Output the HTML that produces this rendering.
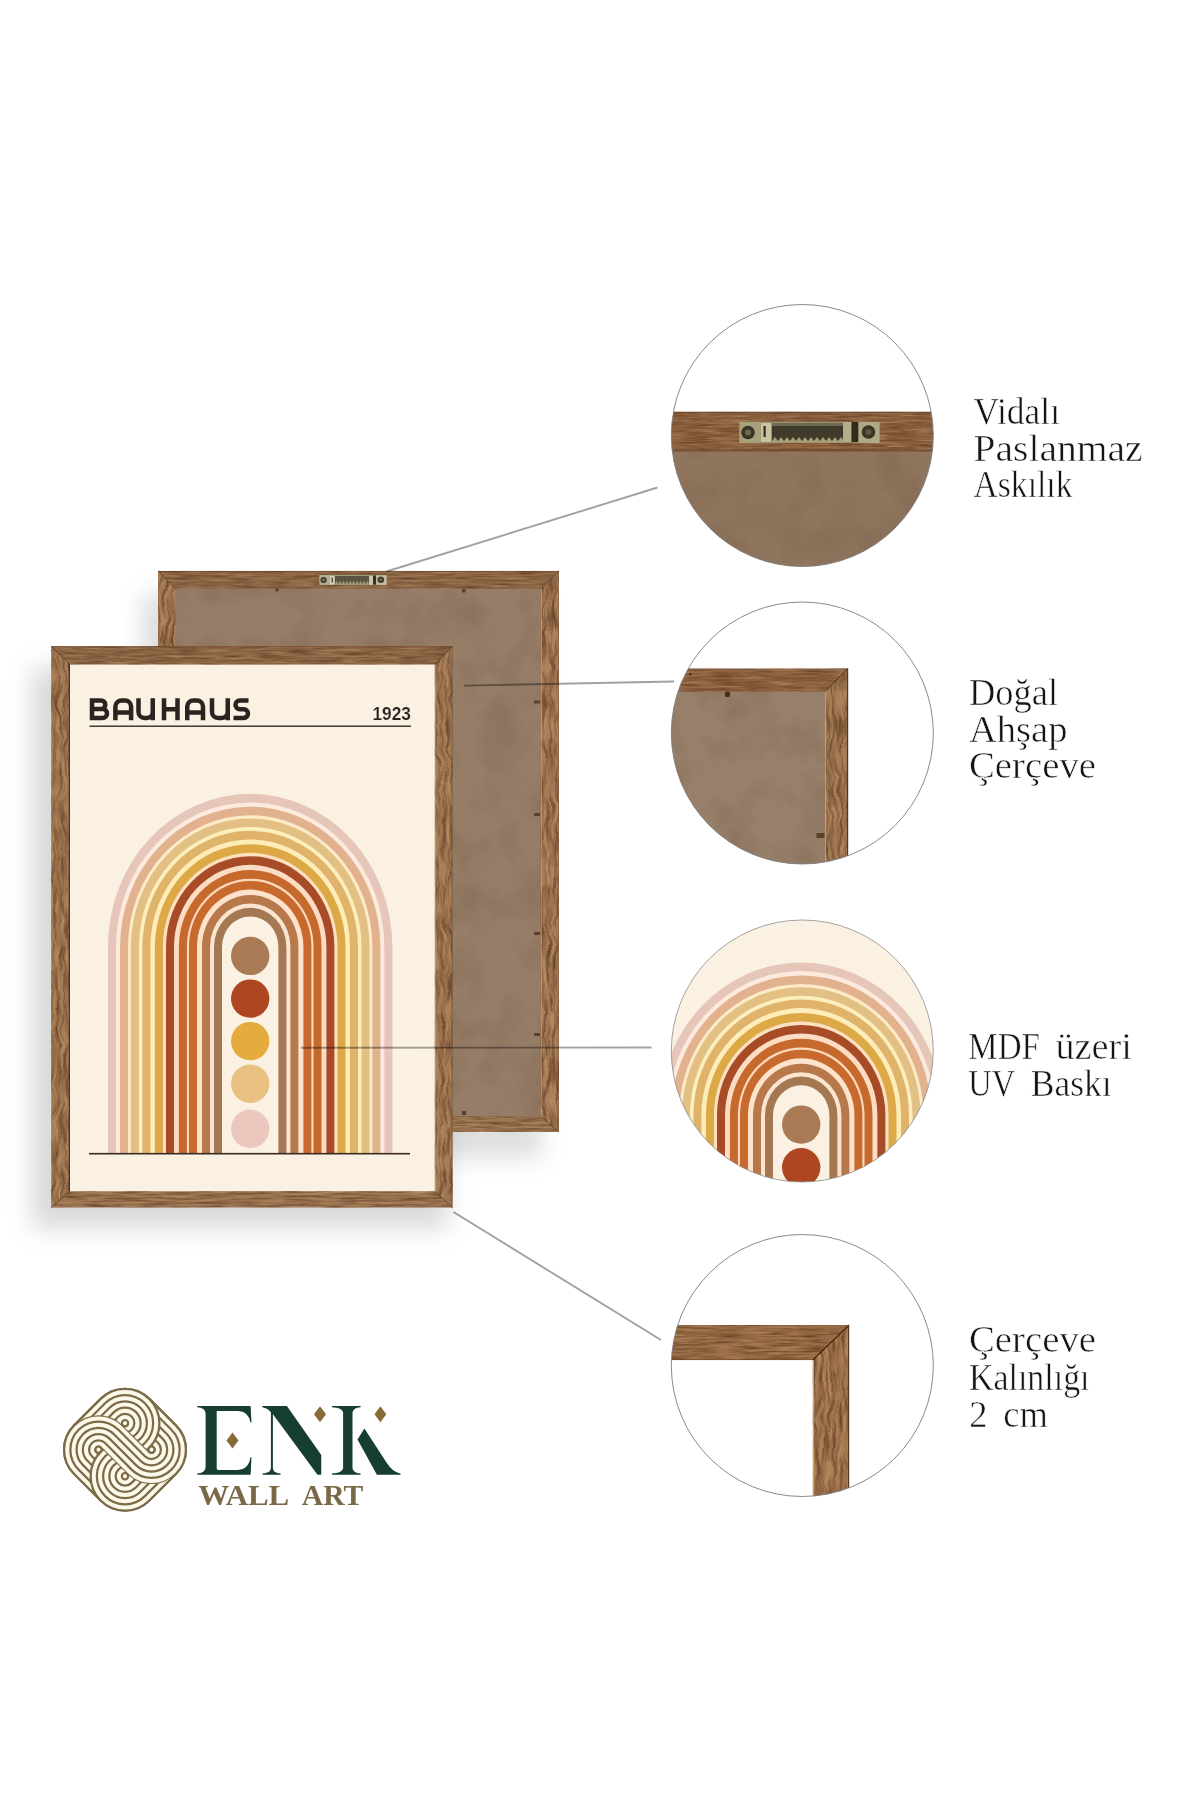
<!DOCTYPE html>
<html><head><meta charset="utf-8"><title>ENK Wall Art</title>
<style>
html,body{margin:0;padding:0;background:#fff;}
body{width:1200px;height:1800px;overflow:hidden;font-family:"Liberation Sans",sans-serif;}
svg{display:block}
text{font-family:"Liberation Serif",serif;}
.lbl{font-family:"Liberation Serif",serif;font-size:38.5px;fill:#141414;stroke:#fff;stroke-width:0.55px;}
.sans{font-family:"Liberation Sans",sans-serif;}
</style></head><body>
<svg width="1200" height="1800" viewBox="0 0 1200 1800">
<defs>
<filter id="woodH" x="0" y="0" width="100%" height="100%" color-interpolation-filters="sRGB">
 <feTurbulence type="fractalNoise" baseFrequency="0.035 0.45" numOctaves="3" seed="4" result="n"/>
 <feColorMatrix in="n" type="matrix" values="0 0 0 0 0.36  0 0 0 0 0.22  0 0 0 0 0.12  1.5 0 0 0 -0.55" result="g"/>
 <feComposite in="g" in2="SourceGraphic" operator="in" result="gi"/>
 <feTurbulence type="fractalNoise" baseFrequency="0.03 0.5" numOctaves="2" seed="11" result="n2"/>
 <feColorMatrix in="n2" type="matrix" values="0 0 0 0 0.74  0 0 0 0 0.58  0 0 0 0 0.43  0 1.3 0 0 -0.52" result="l"/>
 <feComposite in="l" in2="SourceGraphic" operator="in" result="li"/>
 <feMerge><feMergeNode in="SourceGraphic"/><feMergeNode in="li"/><feMergeNode in="gi"/></feMerge>
</filter>
<filter id="woodV" x="0" y="0" width="100%" height="100%" color-interpolation-filters="sRGB">
 <feTurbulence type="fractalNoise" baseFrequency="0.30 0.035" numOctaves="3" seed="7" result="n0"/>
 <feTurbulence type="fractalNoise" baseFrequency="0.02 0.045" numOctaves="2" seed="21" result="w"/>
 <feDisplacementMap in="n0" in2="w" scale="11" xChannelSelector="R" yChannelSelector="G" result="n"/>
 <feColorMatrix in="n" type="matrix" values="0 0 0 0 0.36  0 0 0 0 0.22  0 0 0 0 0.12  1.7 0 0 0 -0.62" result="g"/>
 <feComposite in="g" in2="SourceGraphic" operator="in" result="gi"/>
 <feColorMatrix in="n" type="matrix" values="0 0 0 0 0.76  0 0 0 0 0.60  0 0 0 0 0.44  0 1.4 0 0 -0.56" result="l"/>
 <feComposite in="l" in2="SourceGraphic" operator="in" result="li"/>
 <feMerge><feMergeNode in="SourceGraphic"/><feMergeNode in="li"/><feMergeNode in="gi"/></feMerge>
</filter>
<filter id="mdf" x="0" y="0" width="100%" height="100%" color-interpolation-filters="sRGB">
 <feTurbulence type="fractalNoise" baseFrequency="0.025" numOctaves="3" seed="3" result="n"/>
 <feColorMatrix in="n" type="matrix" values="0 0 0 0 0.47  0 0 0 0 0.37  0 0 0 0 0.28  0.8 0 0 0 -0.34" result="g"/>
 <feComposite in="g" in2="SourceGraphic" operator="in" result="gi"/>
 <feMerge><feMergeNode in="SourceGraphic"/><feMergeNode in="gi"/></feMerge>
</filter>
<filter id="blur12" x="-20%" y="-20%" width="140%" height="140%"><feGaussianBlur stdDeviation="12"/></filter>
<filter id="blur8" x="-20%" y="-20%" width="140%" height="140%"><feGaussianBlur stdDeviation="11"/></filter>
<clipPath id="c1"><circle cx="802.3" cy="435.5" r="131"/></clipPath>
<clipPath id="c2"><circle cx="802.3" cy="733" r="131"/></clipPath>
<clipPath id="c3"><circle cx="802.3" cy="1051" r="131"/></clipPath>
<clipPath id="c4"><circle cx="802.3" cy="1365.5" r="131"/></clipPath>
<g id="arch">
<path d="M-134.5 206.8 V0 A134.5 144.72 0 0 1 134.5 0 V206.8 H129.89999999999998 V0 A129.89999999999998 139.77 0 0 0 -129.89999999999998 0 V206.8 Z" fill="#FBEADD"/>
<path d="M-122.5 206.8 V0 A122.5 131.81 0 0 1 122.5 0 V206.8 H119.0 V0 A119.0 128.04 0 0 0 -119.0 0 V206.8 Z" fill="#FDEBC8"/>
<path d="M-111.6 206.8 V0 A111.6 120.08 0 0 1 111.6 0 V206.8 H107.5 V0 A107.5 115.67 0 0 0 -107.5 0 V206.8 Z" fill="#FDEEBE"/>
<path d="M-100.1 206.8 V0 A100.1 107.71 0 0 1 100.1 0 V206.8 H95.0 V0 A95.0 102.22 0 0 0 -95.0 0 V206.8 Z" fill="#FEEDB8"/>
<path d="M-87.6 206.8 V0 A87.6 94.26 0 0 1 87.6 0 V206.8 H83.9 V0 A83.9 90.28 0 0 0 -83.9 0 V206.8 Z" fill="#FDE0C0"/>
<path d="M-76.5 206.8 V0 A76.5 82.31 0 0 1 76.5 0 V206.8 H71.0 V0 A71.0 76.40 0 0 0 -71.0 0 V206.8 Z" fill="#FDDCC4"/>
<path d="M-63.599999999999994 206.8 V0 A63.599999999999994 68.43 0 0 1 63.599999999999994 0 V206.8 H60.900000000000006 V0 A60.900000000000006 65.53 0 0 0 -60.900000000000006 0 V206.8 Z" fill="#FCD9BC"/>
<path d="M-53.5 206.8 V0 A53.5 57.57 0 0 1 53.5 0 V206.8 H47.900000000000006 V0 A47.900000000000006 51.54 0 0 0 -47.900000000000006 0 V206.8 Z" fill="#FDE2CC"/>
<path d="M-40.5 206.8 V0 A40.5 43.58 0 0 1 40.5 0 V206.8 H35.900000000000006 V0 A35.900000000000006 38.63 0 0 0 -35.900000000000006 0 V206.8 Z" fill="#FBE4D0"/>
<path d="M-142.2 206.8 V0 A142.2 153.01 0 0 1 142.2 0 V206.8 H134.2 V0 A134.2 144.40 0 0 0 -134.2 0 V206.8 Z" fill="#E7C6BA"/>
<path d="M-130.2 206.8 V0 A130.2 140.10 0 0 1 130.2 0 V206.8 H122.2 V0 A122.2 131.49 0 0 0 -122.2 0 V206.8 Z" fill="#E2B28E"/>
<path d="M-119.3 206.8 V0 A119.3 128.37 0 0 1 119.3 0 V206.8 H111.3 V0 A111.3 119.76 0 0 0 -111.3 0 V206.8 Z" fill="#E2C084"/>
<path d="M-107.8 206.8 V0 A107.8 115.99 0 0 1 107.8 0 V206.8 H99.8 V0 A99.8 107.38 0 0 0 -99.8 0 V206.8 Z" fill="#E0B36A"/>
<path d="M-95.3 206.8 V0 A95.3 102.54 0 0 1 95.3 0 V206.8 H87.3 V0 A87.3 93.93 0 0 0 -87.3 0 V206.8 Z" fill="#DCA946"/>
<path d="M-84.2 206.8 V0 A84.2 90.60 0 0 1 84.2 0 V206.8 H76.2 V0 A76.2 81.99 0 0 0 -76.2 0 V206.8 Z" fill="#A74C27"/>
<path d="M-71.3 206.8 V0 A71.3 76.72 0 0 1 71.3 0 V206.8 H63.3 V0 A63.3 68.11 0 0 0 -63.3 0 V206.8 Z" fill="#C6692D"/>
<path d="M-61.2 206.8 V0 A61.2 65.85 0 0 1 61.2 0 V206.8 H53.2 V0 A53.2 57.24 0 0 0 -53.2 0 V206.8 Z" fill="#C86A2E"/>
<path d="M-48.2 206.8 V0 A48.2 51.86 0 0 1 48.2 0 V206.8 H40.2 V0 A40.2 43.26 0 0 0 -40.2 0 V206.8 Z" fill="#B7794B"/>
<path d="M-36.2 206.8 V0 A36.2 38.95 0 0 1 36.2 0 V206.8 H28.2 V0 A28.2 30.34 0 0 0 -28.2 0 V206.8 Z" fill="#A37853"/>
<circle cx="0" cy="9.1" r="19.2" fill="#A97A54"/>
<circle cx="0" cy="51.8" r="19.2" fill="#AF4622"/>
<circle cx="0" cy="94.3" r="19.2" fill="#E4AB3F"/>
<circle cx="0" cy="136.9" r="19.2" fill="#E8C181"/>
<circle cx="0" cy="182.0" r="19.2" fill="#EBC8BE"/>
</g>
<g id="archzoom">
<path d="M-134.5 130 V0 A134.5 144.72 0 0 1 134.5 0 V130 H129.89999999999998 V0 A129.89999999999998 139.77 0 0 0 -129.89999999999998 0 V130 Z" fill="#FBEADD"/>
<path d="M-122.5 130 V0 A122.5 131.81 0 0 1 122.5 0 V130 H119.0 V0 A119.0 128.04 0 0 0 -119.0 0 V130 Z" fill="#FDEBC8"/>
<path d="M-111.6 130 V0 A111.6 120.08 0 0 1 111.6 0 V130 H107.5 V0 A107.5 115.67 0 0 0 -107.5 0 V130 Z" fill="#FDEEBE"/>
<path d="M-100.1 130 V0 A100.1 107.71 0 0 1 100.1 0 V130 H95.0 V0 A95.0 102.22 0 0 0 -95.0 0 V130 Z" fill="#FEEDB8"/>
<path d="M-87.6 130 V0 A87.6 94.26 0 0 1 87.6 0 V130 H83.9 V0 A83.9 90.28 0 0 0 -83.9 0 V130 Z" fill="#FDE0C0"/>
<path d="M-76.5 130 V0 A76.5 82.31 0 0 1 76.5 0 V130 H71.0 V0 A71.0 76.40 0 0 0 -71.0 0 V130 Z" fill="#FDDCC4"/>
<path d="M-63.599999999999994 130 V0 A63.599999999999994 68.43 0 0 1 63.599999999999994 0 V130 H60.900000000000006 V0 A60.900000000000006 65.53 0 0 0 -60.900000000000006 0 V130 Z" fill="#FCD9BC"/>
<path d="M-53.5 130 V0 A53.5 57.57 0 0 1 53.5 0 V130 H47.900000000000006 V0 A47.900000000000006 51.54 0 0 0 -47.900000000000006 0 V130 Z" fill="#FDE2CC"/>
<path d="M-40.5 130 V0 A40.5 43.58 0 0 1 40.5 0 V130 H35.900000000000006 V0 A35.900000000000006 38.63 0 0 0 -35.900000000000006 0 V130 Z" fill="#FBE4D0"/>
<path d="M-142.2 130 V0 A142.2 153.01 0 0 1 142.2 0 V130 H134.2 V0 A134.2 144.40 0 0 0 -134.2 0 V130 Z" fill="#E7C6BA"/>
<path d="M-130.2 130 V0 A130.2 140.10 0 0 1 130.2 0 V130 H122.2 V0 A122.2 131.49 0 0 0 -122.2 0 V130 Z" fill="#E2B28E"/>
<path d="M-119.3 130 V0 A119.3 128.37 0 0 1 119.3 0 V130 H111.3 V0 A111.3 119.76 0 0 0 -111.3 0 V130 Z" fill="#E2C084"/>
<path d="M-107.8 130 V0 A107.8 115.99 0 0 1 107.8 0 V130 H99.8 V0 A99.8 107.38 0 0 0 -99.8 0 V130 Z" fill="#E0B36A"/>
<path d="M-95.3 130 V0 A95.3 102.54 0 0 1 95.3 0 V130 H87.3 V0 A87.3 93.93 0 0 0 -87.3 0 V130 Z" fill="#DCA946"/>
<path d="M-84.2 130 V0 A84.2 90.60 0 0 1 84.2 0 V130 H76.2 V0 A76.2 81.99 0 0 0 -76.2 0 V130 Z" fill="#A74C27"/>
<path d="M-71.3 130 V0 A71.3 76.72 0 0 1 71.3 0 V130 H63.3 V0 A63.3 68.11 0 0 0 -63.3 0 V130 Z" fill="#C6692D"/>
<path d="M-61.2 130 V0 A61.2 65.85 0 0 1 61.2 0 V130 H53.2 V0 A53.2 57.24 0 0 0 -53.2 0 V130 Z" fill="#C86A2E"/>
<path d="M-48.2 130 V0 A48.2 51.86 0 0 1 48.2 0 V130 H40.2 V0 A40.2 43.26 0 0 0 -40.2 0 V130 Z" fill="#B7794B"/>
<path d="M-36.2 130 V0 A36.2 38.95 0 0 1 36.2 0 V130 H28.2 V0 A28.2 30.34 0 0 0 -28.2 0 V130 Z" fill="#A37853"/>
<circle cx="0" cy="9.1" r="19.2" fill="#A97A54"/>
<circle cx="0" cy="51.8" r="19.2" fill="#AF4622"/>
<circle cx="0" cy="94.3" r="19.2" fill="#E4AB3F"/>
<circle cx="0" cy="136.9" r="19.2" fill="#E8C181"/>
<circle cx="0" cy="182.0" r="19.2" fill="#EBC8BE"/>
</g>
</defs>
<rect width="1200" height="1800" fill="#ffffff"/>

<!-- shadows -->
<g>
<rect x="142" y="594" width="400" height="564" fill="#8a8c8e" filter="url(#blur8)" opacity="0.28"/>
<rect x="32" y="668" width="416" height="560" fill="#8a8c8e" filter="url(#blur12)" opacity="0.33"/>
</g>

<!-- back frame -->
<rect x="175" y="588" width="366" height="529" fill="#957D68" filter="url(#mdf)"/>

<path d="M158 571 L558.8 571 L540.6 588.7 L175.5 588.7 Z" fill="#906A48" filter="url(#woodH)"/>
<path d="M158 1132 L558.8 1132 L540.6 1116.2 L175.5 1116.2 Z" fill="#9E7854" filter="url(#woodH)"/>
<path d="M158 571 L175.5 588.7 L175.5 1116.2 L158 1132 Z" fill="#A67B56" filter="url(#woodV)"/>
<path d="M558.8 571 L540.6 588.7 L540.6 1116.2 L558.8 1132 Z" fill="#A67B56" filter="url(#woodV)"/>
<path d="M158 571 L175.5 588.7 M558.8 571 L540.6 588.7 M158 1132 L175.5 1116.2 M558.8 1132 L540.6 1116.2" stroke="#4A2C14" stroke-width="0.9" fill="none" opacity="0.8"/>
<path d="M558.4 571 V1132 M158 571.4 H558.8" stroke="#5E3C20" stroke-width="0.9" fill="none" opacity="0.55"/>
<path d="M541.5 588.7 V1116.2" stroke="#D8B48C" stroke-width="0.8" fill="none" opacity="0.55"/>

<!-- clips on back -->
<g fill="#5A4030">
<rect x="275.5" y="588.5" width="3" height="3"/><rect x="462" y="589" width="3.5" height="3.5"/>
<rect x="534" y="700.5" width="6" height="3"/><rect x="534" y="813" width="6" height="3"/>
<rect x="534" y="932" width="6" height="3"/><rect x="534" y="1033" width="6" height="3"/>
<rect x="462" y="1111" width="4" height="4"/>
</g>
<!-- hanger small -->
<g>
<rect x="319.5" y="575" width="67" height="9.8" fill="#A09A7C"/>
<rect x="319.5" y="575" width="11" height="9.8" fill="#B2AE92"/>
<rect x="330" y="576" width="4.5" height="8.5" fill="#D2CFBC"/>
<rect x="335" y="576" width="34" height="8" fill="#5C5442"/>
<path d="M335 583.8 l1.7 -3 1.7 3 1.7 -3 1.7 3 1.7 -3 1.7 3 1.7 -3 1.7 3 1.7 -3 1.7 3 1.7 -3 1.7 3 1.7 -3 1.7 3 1.7 -3 1.7 3 1.7 -3 1.7 3 1.7 -3 1.7 3 V584.8 H335Z" fill="#9C9678"/>
<rect x="369" y="576" width="4" height="8.8" fill="#C9C6B0"/>
<rect x="373" y="575.5" width="3.2" height="9" fill="#383224"/>
<rect x="376.2" y="575.5" width="10.3" height="9.3" fill="#C4C0A8"/>
<circle cx="323.6" cy="580" r="3.1" fill="#3E3A2A"/><circle cx="323.6" cy="580" r="1.2" fill="#8A866A"/>
<circle cx="380.8" cy="579.8" r="3.3" fill="#3E3A2A"/><circle cx="380.8" cy="579.8" r="1.3" fill="#7A765C"/>
<rect x="331.6" y="577.5" width="1.2" height="5" fill="#3A3426"/>
</g>

<!-- front frame -->
<rect x="69" y="664" width="366" height="528" fill="#FAF1E3"/>
<g transform="translate(250.2,946.8)"><use href="#arch"/></g>
<rect x="89" y="1152.9" width="321" height="1.6" fill="#3A2C22"/>
<rect x="89.5" y="725.5" width="321.5" height="1.4" fill="#332A25"/>
<g fill="none" stroke="#2A2320" stroke-width="4.5" stroke-linejoin="round">
<path d="M92 698.2 V720.25 M89.75 700.45 H101 a4.2 4.2 0 0 1 0 8.6 H92 M92 709.1 H102.6 a4.45 4.45 0 0 1 0 8.9 H89.75"/>
<path d="M115.4 720.25 V706.6 a6.15 6.15 0 0 1 6.15 -6.15 h3.4 a6.15 6.15 0 0 1 6.15 6.15 V720.25 M115.4 712.6 H131.1"/>
<path d="M138.5 698.2 V712 a6 6 0 0 0 6 6 h2.25 a6 6 0 0 0 6 -6 M152.75 698.2 V720.25"/>
<path d="M164 698.2 V720.25 M177.5 698.2 V720.25 M164 709.2 H177.5"/>
<path d="M187.25 720.25 V706.6 a6.15 6.15 0 0 1 6.15 -6.15 h3.45 a6.15 6.15 0 0 1 6.15 6.15 V720.25 M187.25 712.6 H203"/>
<path d="M212 698.2 V712 a6 6 0 0 0 6 6 h3.75 a6 6 0 0 0 6 -6 M227.75 698.2 V720.25"/>
<path d="M248.5 700.45 H239.8 a4.35 4.35 0 0 0 0 8.7 H243.8 a4.43 4.43 0 0 1 0 8.85 H233.5"/>
</g>
<text class="sans" x="372.5" y="720.2" font-size="18" font-weight="700" fill="#2A2320" stroke="#FAF1E3" stroke-width="0.15" textLength="38.5" lengthAdjust="spacingAndGlyphs">1923</text>

<path d="M51.2 646.3 L452.5 646.3 L434.8 664.4 L69.6 664.4 Z" fill="#906A48" filter="url(#woodH)"/>
<path d="M51.2 1207.6 L452.5 1207.6 L434.8 1191.3 L69.6 1191.3 Z" fill="#9E7854" filter="url(#woodH)"/>
<path d="M51.2 646.3 L69.6 664.4 L69.6 1191.3 L51.2 1207.6 Z" fill="#A67B56" filter="url(#woodV)"/>
<path d="M452.5 646.3 L434.8 664.4 L434.8 1191.3 L452.5 1207.6 Z" fill="#A67B56" filter="url(#woodV)"/>
<path d="M51.2 646.3 L69.6 664.4 M452.5 646.3 L434.8 664.4 M51.2 1207.6 L69.6 1191.3 M452.5 1207.6 L434.8 1191.3" stroke="#4A2C14" stroke-width="0.9" fill="none" opacity="0.8"/>
<path d="M452.1 646.3 V1207.6 M51.2 646.6999999999999 H452.5" stroke="#5E3C20" stroke-width="0.9" fill="none" opacity="0.55"/>
<path d="M435.7 664.4 V1191.3" stroke="#D8B48C" stroke-width="0.8" fill="none" opacity="0.55"/>

<path d="M69.3 664.4 V1191.3" stroke="#3A2212" stroke-width="1.1"/>

<!-- pointer lines -->
<g stroke="#979797" stroke-width="1.9" fill="none" opacity="0.9" style="mix-blend-mode:multiply">
<path d="M386.5 571.5 L657.5 487.5"/>
<path d="M464 685.6 L674 681.5"/>
<path d="M301 1047.8 L651.5 1047.5"/>
<path d="M453.5 1212 L661 1340"/>
</g>

<!-- circle 1 -->
<g clip-path="url(#c1)">
<rect x="660" y="450" width="290" height="130" fill="#8F745E" filter="url(#mdf)"/>
<rect x="660" y="411.8" width="290" height="39.4" fill="#8F6340" filter="url(#woodH)"/>
<rect x="660" y="411.8" width="290" height="1.5" fill="#6A4426" opacity="0.6"/>
<rect x="660" y="449.5" width="290" height="2" fill="#6E4A30" opacity="0.7"/>
<g>
<rect x="739.5" y="421.8" width="140" height="21" fill="#9C946E"/>
<rect x="739.5" y="421.8" width="21" height="21" fill="#A8A07A"/>
<rect x="772" y="423" width="72" height="18" fill="#3E3B2A"/>
<rect x="772" y="423" width="72" height="3" fill="#6E6A50"/>
<path d="M772 441 l3 -4 3 4 3 -4 3 4 3 -4 3 4 3 -4 3 4 3 -4 3 4 3 -4 3 4 3 -4 3 4 3 -4 3 4 3 -4 3 4 3 -4 3 4 3 -4 3 4 3 -4 3 4 V442.8 H772Z" fill="#A89F78"/>
<rect x="761" y="423" width="10" height="19" fill="#C9C3A2"/>
<rect x="763.5" y="426" width="2.2" height="11" fill="#2E2A1C"/>
<rect x="843" y="422" width="8.5" height="20" fill="#B5AE8A"/>
<rect x="851.5" y="422" width="7" height="20" fill="#2F2B1E"/>
<rect x="858.5" y="422" width="21" height="21" fill="#B0A984"/>
<circle cx="748" cy="432.5" r="6.8" fill="#3A3626"/><circle cx="748" cy="432.5" r="3" fill="#6F694C"/>
<circle cx="868.5" cy="432" r="6.8" fill="#3A3626"/><circle cx="868.5" cy="432" r="3" fill="#5F5A40"/>
</g>
</g>
<circle cx="802.3" cy="435.5" r="131" fill="none" stroke="#7d7d7d" stroke-width="0.9"/>

<!-- circle 2 -->
<g clip-path="url(#c2)">
<rect x="660" y="690" width="166" height="190" fill="#987F6A" filter="url(#mdf)"/>
<path d="M660 668.6 H847.8 L825 691.5 H660Z" fill="#8F6340" filter="url(#woodH)"/>
<path d="M847.8 668.6 V880 H825 V691.5Z" fill="#A27853" filter="url(#woodV)"/>
<path d="M847.8 668.6 L825 691.5" stroke="#3E2412" stroke-width="1"/>
<path d="M847.6 668.6 V880" stroke="#5A3418" stroke-width="1.2"/>
<path d="M825.4 691.5 V880" stroke="#E0C09A" stroke-width="0.8" opacity="0.8"/>
<rect x="725" y="691.5" width="5" height="5.5" rx="1.5" fill="#4A2E1C"/>
<rect x="816.5" y="833" width="8" height="5" fill="#5A4228"/>
<rect x="689" y="673" width="2.5" height="2.5" fill="#4A2E1C"/>
</g>
<circle cx="802.3" cy="733" r="131" fill="none" stroke="#7d7d7d" stroke-width="0.9"/>

<!-- circle 3 -->
<g clip-path="url(#c3)">
<rect x="660" y="910" width="290" height="290" fill="#FAF1E3"/>
<g transform="translate(801.2,1115.5)"><use href="#archzoom"/></g>
</g>
<circle cx="802.3" cy="1051" r="131" fill="none" stroke="#8d8d8d" stroke-width="0.8"/>

<!-- circle 4 -->
<g clip-path="url(#c4)">
<path d="M660 1325 H849 L812.8 1360 H660Z" fill="#9C6E46" filter="url(#woodH)"/>
<path d="M849 1325 V1510 H812.8 V1360Z" fill="#A6784E" filter="url(#woodV)"/>
<path d="M849 1325 L812.8 1360" stroke="#3E2412" stroke-width="1.1"/>
<path d="M848.6 1325 V1510" stroke="#5A3418" stroke-width="1.2"/>
<path d="M813.2 1360 V1510" stroke="#EBD6B8" stroke-width="0.9" opacity="0.9"/>
<path d="M660 1359.6 H812.8" stroke="#6A4526" stroke-width="0.9" opacity="0.7"/>
</g>
<circle cx="802.3" cy="1365.5" r="131" fill="none" stroke="#7d7d7d" stroke-width="0.9"/>

<!-- labels -->
<g class="lbl">
<text x="973.5" y="424" textLength="86.5" lengthAdjust="spacingAndGlyphs">Vidalı</text>
<text x="973.5" y="460.7" textLength="169" lengthAdjust="spacingAndGlyphs">Paslanmaz</text>
<text x="973.5" y="497.3" textLength="99" lengthAdjust="spacingAndGlyphs">Askılık</text>
<text x="969" y="705" textLength="89" lengthAdjust="spacingAndGlyphs">Doğal</text>
<text x="969" y="741.6" textLength="98.5" lengthAdjust="spacingAndGlyphs">Ahşap</text>
<text x="969" y="778.3" textLength="127" lengthAdjust="spacingAndGlyphs">Çerçeve</text>
<text x="968.3" y="1058.6" textLength="71.5" lengthAdjust="spacingAndGlyphs">MDF</text><text x="1055.4" y="1058.6" textLength="76.5" lengthAdjust="spacingAndGlyphs">üzeri</text>
<text x="968.3" y="1095.6" textLength="46.8" lengthAdjust="spacingAndGlyphs">UV</text><text x="1030.7" y="1095.6" textLength="81" lengthAdjust="spacingAndGlyphs">Baskı</text>
<text x="969" y="1352.3" textLength="127" lengthAdjust="spacingAndGlyphs">Çerçeve</text>
<text x="969" y="1389.9" textLength="120.5" lengthAdjust="spacingAndGlyphs">Kalınlığı</text>
<text x="969.3" y="1427" textLength="18.3" lengthAdjust="spacingAndGlyphs">2</text><text x="1003.2" y="1427" textLength="44.6" lengthAdjust="spacingAndGlyphs">cm</text>
</g>

<!-- logo -->

<g transform="translate(125,1449.7) rotate(45) scale(0.125)">
<mask id="mcore" maskUnits="userSpaceOnUse" x="-500" y="-500" width="1000" height="1000"><rect x="-500" y="-500" width="1000" height="1000" fill="#fff"/><path d="M138 -300 L150 -300 A150 150 0 0 1 150 0 L-150 0 A150 150 0 0 0 -150 300 L-138 300" stroke="#000" stroke-width="250" fill="none"/></mask>
<rect x="-425" y="-425" width="850" height="850" rx="275" fill="#FCF8EA" stroke="#7C6B47" stroke-width="18"/>
<path d="M-150 -300 L150 -300 A150 150 0 0 1 150 0 L-150 0 A150 150 0 0 0 -150 300 L150 300" fill="none" stroke="#7C6B47" stroke-width="268"/>
<path d="M-150 -300 L150 -300 A150 150 0 0 1 150 0 L-150 0 A150 150 0 0 0 -150 300 L150 300" fill="none" stroke="#FCF8EA" stroke-width="232"/>
<path d="M-150 -300 L150 -300 A150 150 0 0 1 150 0 L-150 0 A150 150 0 0 0 -150 300 L150 300" fill="none" stroke="#7C6B47" stroke-width="168"/>
<path d="M-150 -300 L150 -300 A150 150 0 0 1 150 0 L-150 0 A150 150 0 0 0 -150 300 L150 300" fill="none" stroke="#FCF8EA" stroke-width="132"/>
<path d="M-150 -300 L150 -300 A150 150 0 0 1 150 0 L-150 0 A150 150 0 0 0 -150 300 L150 300" fill="none" stroke="#7C6B47" stroke-width="68"/>
<path d="M-150 -300 L150 -300 A150 150 0 0 1 150 0 L-150 0 A150 150 0 0 0 -150 300 L150 300" fill="none" stroke="#FCF8EA" stroke-width="32"/>
<g mask="url(#mcore)">
<circle cx="-150" cy="-150" r="70" fill="#FCF8EA"/><circle cx="150" cy="150" r="70" fill="#FCF8EA"/>
<path d="M-325 150 L-325 -150 A175 175 0 0 1 -150 -325 A175 175 0 0 1 25 -150 A175 175 0 0 1 1.55 -62.5" fill="none" stroke="#7C6B47" stroke-width="218"/>
<path d="M-325 150 L-325 -150 A175 175 0 0 1 -150 -325 A175 175 0 0 1 25 -150 A175 175 0 0 1 1.55 -62.5" fill="none" stroke="#FCF8EA" stroke-width="182"/>
<path d="M-325 150 L-325 -150 A175 175 0 0 1 -150 -325 A175 175 0 0 1 25 -150 A175 175 0 0 1 1.55 -62.5" fill="none" stroke="#7C6B47" stroke-width="118"/>
<path d="M-325 150 L-325 -150 A175 175 0 0 1 -150 -325 A175 175 0 0 1 25 -150 A175 175 0 0 1 1.55 -62.5" fill="none" stroke="#FCF8EA" stroke-width="82"/>
<path d="M-325 150 L-325 -150 A175 175 0 0 1 -150 -325 A175 175 0 0 1 25 -150 A175 175 0 0 1 1.55 -62.5" fill="none" stroke="#7C6B47" stroke-width="18"/>
<path d="M325 -150 L325 150 A175 175 0 0 1 150 325 A175 175 0 0 1 -25 150 A175 175 0 0 1 -1.55 62.5" fill="none" stroke="#7C6B47" stroke-width="218"/>
<path d="M325 -150 L325 150 A175 175 0 0 1 150 325 A175 175 0 0 1 -25 150 A175 175 0 0 1 -1.55 62.5" fill="none" stroke="#FCF8EA" stroke-width="182"/>
<path d="M325 -150 L325 150 A175 175 0 0 1 150 325 A175 175 0 0 1 -25 150 A175 175 0 0 1 -1.55 62.5" fill="none" stroke="#7C6B47" stroke-width="118"/>
<path d="M325 -150 L325 150 A175 175 0 0 1 150 325 A175 175 0 0 1 -25 150 A175 175 0 0 1 -1.55 62.5" fill="none" stroke="#FCF8EA" stroke-width="82"/>
<path d="M325 -150 L325 150 A175 175 0 0 1 150 325 A175 175 0 0 1 -25 150 A175 175 0 0 1 -1.55 62.5" fill="none" stroke="#7C6B47" stroke-width="18"/>
</g>
<g fill="#FCF8EA" stroke="#7C6B47" stroke-width="18">
<circle cx="-150" cy="-150" r="25"/><circle cx="150" cy="-150" r="25"/><circle cx="150" cy="150" r="25"/><circle cx="-150" cy="150" r="25"/>
</g>
</g>
<g fill="#173E33">
<path d="M197.3 1406 H250.6 L251.5 1422.5 H250.5 Q248.5 1411.2 238 1410.9 H216.7 V1468.6 Q216.7 1469.9 218 1469.9 H238 Q248.5 1469.5 250.5 1457.3 H251.5 L250.6 1474.75 H197.3 V1473.6 Q205 1473 205.6 1467.5 V1413.2 Q205 1407.8 197.3 1407.2 Z"/>
<path d="M262.25 1406 H286.9 L321.25 1455 V1474.75 H317.5 L272.9 1414.2 V1468.5 Q273.5 1473 280.6 1473.6 V1474.75 H262.5 V1473.6 Q270.2 1473 270.9 1468.5 V1412.5 Q268 1408 262.25 1407.2 Z"/>
<path d="M331.9 1406 H360.6 V1407.2 Q353.2 1407.8 352.5 1412.5 V1468.3 Q353.2 1473 360.6 1473.6 V1474.75 H331.9 V1473.6 Q342.4 1473 343.1 1468.3 V1412.5 Q342.4 1407.8 331.9 1407.2 Z"/>
<path d="M364.4 1428.5 L357.5 1439.4 L376.9 1474.75 H400.6 V1473.7 Q392.5 1472 386.5 1462.5 Z"/>
</g>
<g font-size="30" font-weight="700" fill="#7A6946">
<text x="198.2" y="1504.5" textLength="91" lengthAdjust="spacingAndGlyphs">WALL</text>
<text x="301.8" y="1504.5" textLength="61.5" lengthAdjust="spacingAndGlyphs">ART</text>
</g>
<g fill="#876B36">
<path d="M232.5 1432.5 L238.5 1440.5 L232.5 1448.5 L226.5 1440.5Z"/>
<path d="M320 1406.3 L326 1414.2 L320 1422.3 L314 1414.2Z"/>
<path d="M380.4 1406.3 L386.3 1414.2 L380.4 1422.3 L374.5 1414.2Z"/>
</g>
</svg>
</body></html>
